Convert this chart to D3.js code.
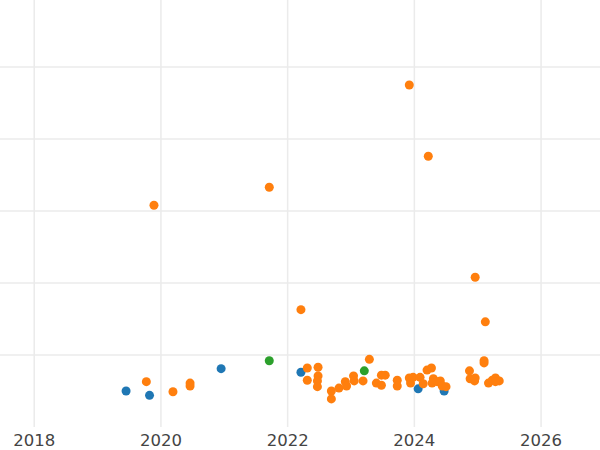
<!DOCTYPE html>
<html><head><meta charset="utf-8">
<script src="https://cdn.jsdelivr.net/npm/d3@7"></script>
<style>body{margin:0;background:#fff}text{font-family:"DejaVu Sans",sans-serif}</style>
</head><body><svg id="c" width="600" height="450"></svg>
<script>
var blueYears = [2019.45,2019.82,2020.95,2022.21,2024.06,2024.47];
var blueValues = [0.50,0.44,0.81,0.76,0.53,0.50];
var greenYears = [2021.71,2023.21];
var greenValues = [0.92,0.78];
var orangeYears = [2019.77,2019.89,2020.19,2020.46,2020.46,2021.71,2022.21,2022.31,2022.31,2022.48,2022.48,2022.47,2022.47,2022.69,2022.69,2022.81,2022.91,2022.93,2023.04,2023.05,2023.19,2023.29,2023.40,2023.48,2023.48,2023.54,2023.73,2023.73,2023.92,2023.92,2023.94,2023.98,2024.09,2024.14,2024.22,2024.20,2024.27,2024.30,2024.28,2024.36,2024.41,2024.44,2024.50,2024.87,2024.88,2024.95,2024.96,2024.96,2025.10,2025.10,2025.12,2025.17,2025.23,2025.28,2025.34,2025.28];
var orangeValues = [0.63,3.08,0.49,0.61,0.57,3.33,1.63,0.82,0.65,0.83,0.71,0.64,0.56,0.50,0.39,0.54,0.63,0.57,0.71,0.64,0.64,0.94,0.61,0.72,0.58,0.72,0.65,0.57,4.75,0.68,0.61,0.69,0.69,0.60,3.76,0.79,0.82,0.67,0.61,0.63,0.64,0.57,0.56,0.78,0.67,0.64,2.08,0.68,0.92,0.89,1.46,0.61,0.65,0.68,0.64,0.63];
var xTicks = [2018,2020,2022,2024,2026];
var yGrid = [1,2,3,4,5];

var svg = d3.select("#c");
var x = d3.scaleLinear().domain([2017.46,2026.93]).range([0,600]);
var y = d3.scaleLinear().domain([0,5.93]).range([427,0]);

svg.append("g").selectAll("line").data(yGrid).join("line")
  .attr("x1",0).attr("x2",600).attr("y1",d=>y(d)).attr("y2",d=>y(d))
  .attr("stroke","#ebebeb").attr("stroke-width",1.5);
svg.append("g").selectAll("line").data(xTicks).join("line")
  .attr("y1",0).attr("y2",427).attr("x1",d=>x(d)).attr("x2",d=>x(d))
  .attr("stroke","#ebebeb").attr("stroke-width",1.5);
svg.append("g").selectAll("text").data(xTicks).join("text")
  .attr("x",d=>x(d)).attr("y",446).attr("text-anchor","middle")
  .attr("font-size",16.5).attr("fill","#444").text(d=>d);

function dots(xs, vs, color){
  svg.append("g").selectAll("circle").data(xs).join("circle")
    .attr("cx",d=>x(d)).attr("cy",(d,i)=>y(vs[i])).attr("r",4.5).attr("fill",color);
}
dots(blueYears, blueValues, "#1f77b4");
dots(orangeYears, orangeValues, "#ff7f0e");
dots(greenYears, greenValues, "#2ca02c");
</script></body></html>
